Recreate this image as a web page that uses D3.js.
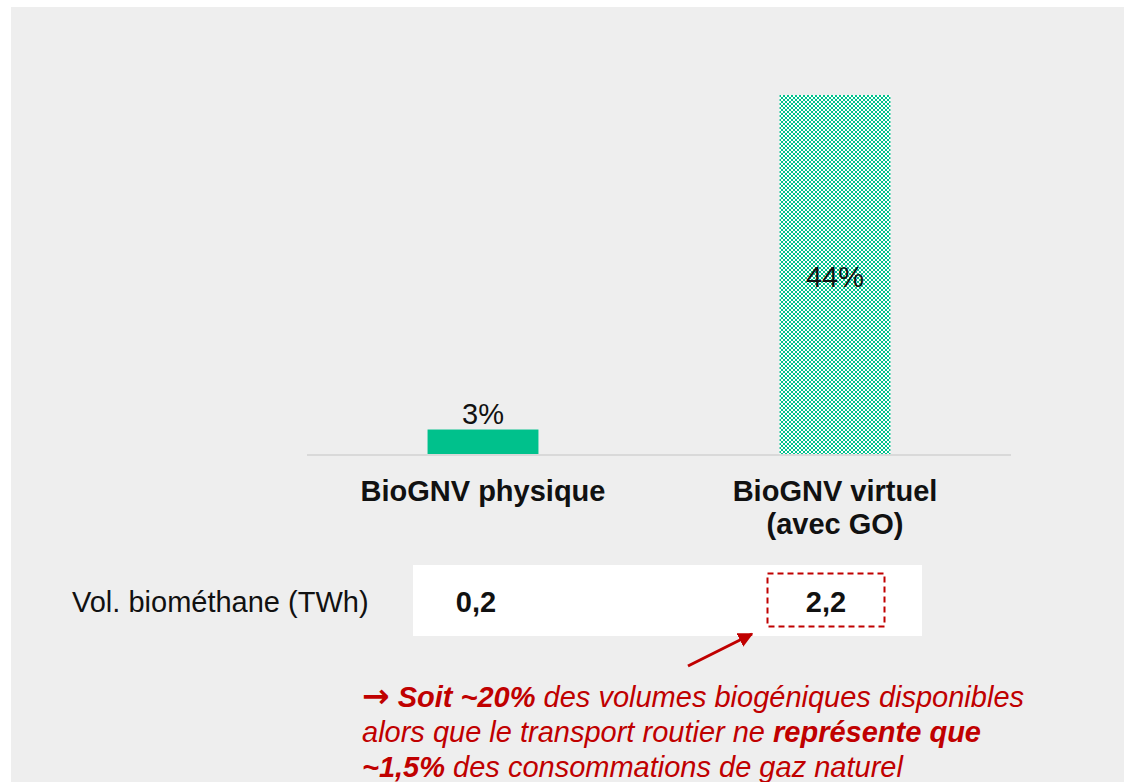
<!DOCTYPE html>
<html><head><meta charset="utf-8">
<script src="https://cdn.jsdelivr.net/npm/d3@7"></script>
<style>
html,body{margin:0;padding:0;background:#fff;}
svg{display:block;font-family:"Liberation Sans",Arial,sans-serif;}
</style></head>
<body>
<svg id="c" width="1127" height="782"></svg>
<script>
const categories = ["BioGNV physique", "BioGNV virtuel"];
const categoryLines = [["BioGNV physique"], ["BioGNV virtuel", "(avec GO)"]];
const shares = [3, 44];
const shareLabels = ["3%", "44%"];
const volumes = ["0,2", "2,2"];
const rowLabel = "Vol. biométhane (TWh)";
const noteLines = [
  [{t:"\u2192", b:true, arrow:true}, {t:" Soit ~20%", b:true}, {t:" des volumes biogéniques disponibles", b:false}],
  [{t:"alors que le transport routier ne ", b:false}, {t:"représente que", b:true}],
  [{t:"~1,5%", b:true}, {t:" des consommations de gaz naturel", b:false}]
];

const svg = d3.select("#c");
const green = "#00c18c";
const red = "#c00000";
const fs = 29;

svg.append("rect").attr("x",11).attr("y",7).attr("width",1113).attr("height",775).attr("fill","#eeeeee");

const defs = svg.append("defs");
const pat = defs.append("pattern").attr("id","chk").attr("patternUnits","userSpaceOnUse")
  .attr("width",4).attr("height",4).attr("x",779).attr("y",95);
pat.append("rect").attr("width",4).attr("height",4).attr("fill","#ffffff");
pat.append("rect").attr("x",0).attr("y",0).attr("width",2).attr("height",2).attr("fill",green);
pat.append("rect").attr("x",2).attr("y",2).attr("width",2).attr("height",2).attr("fill",green);
defs.append("marker").attr("id","ah").attr("viewBox","0 0 10 10").attr("refX",9).attr("refY",5)
  .attr("markerWidth",5).attr("markerHeight",5).attr("orient","auto").attr("markerUnits","strokeWidth")
  .append("path").attr("d","M0,0 L10,5 L0,10 z").attr("fill",red);

const x = d3.scaleBand().domain(categories).range([307, 1011]).paddingInner(0.685).paddingOuter(0.3425);
const y = d3.scaleLinear().domain([0, 44]).range([454, 95]);

svg.selectAll("rect.bar").data(categories).join("rect").attr("class","bar")
  .attr("x", d => x(d)).attr("width", x.bandwidth())
  .attr("y", (d,i) => y(shares[i])).attr("height", (d,i) => y(0) - y(shares[i]))
  .attr("fill", (d,i) => i === 0 ? green : "url(#chk)");

svg.append("line").attr("x1",307).attr("x2",1011).attr("y1",y(0)+1).attr("y2",y(0)+1)
  .attr("stroke","#d9d9d9").attr("stroke-width",2);

// value labels
svg.selectAll("text.val").data(categories).join("text").attr("class","val")
  .attr("x", d => x(d) + x.bandwidth()/2)
  .attr("y", (d,i) => i === 0 ? y(shares[i]) - 6 : (y(shares[i]) + y(0))/2 + 12)
  .attr("text-anchor","middle").attr("font-size",fs).attr("fill","#111")
  .text((d,i) => shareLabels[i]);

// category labels
categories.forEach((c,i) => {
  const t = svg.append("text").attr("x", x(c) + x.bandwidth()/2).attr("y", 501)
    .attr("text-anchor","middle").attr("font-size",fs).attr("font-weight","bold").attr("fill","#111");
  categoryLines[i].forEach((l,j) => t.append("tspan").attr("x", x(c) + x.bandwidth()/2).attr("dy", j ? 33 : 0).text(l));
});

// volume row
svg.append("rect").attr("x",413).attr("y",565).attr("width",509).attr("height",71).attr("fill","#fff");
svg.append("text").attr("x",72).attr("y",612).attr("font-size",fs).attr("fill","#111").text(rowLabel);
const volX = [476, 826];
svg.selectAll("text.vol").data(volumes).join("text").attr("class","vol")
  .attr("x",(d,i)=>volX[i]).attr("y",612).attr("text-anchor","middle")
  .attr("font-size",fs).attr("font-weight","bold").attr("fill","#111").text(d=>d);
svg.append("rect").attr("x",767.5).attr("y",573.5).attr("width",117).attr("height",53)
  .attr("fill","none").attr("stroke",red).attr("stroke-width",2).attr("stroke-dasharray","6,4");

// arrow
svg.append("line").attr("x1",688).attr("y1",666).attr("x2",752).attr("y2",634)
  .attr("stroke",red).attr("stroke-width",3).attr("marker-end","url(#ah)");

// note
noteLines.forEach((line,i) => {
  const t = svg.append("text").attr("x",362).attr("y",707 + i*35)
    .attr("font-size",fs).attr("font-style","italic").attr("fill",red);
  line.forEach(s => {
    const ts = t.append("tspan").attr("font-weight", s.b ? "bold" : "normal").text(s.t);
    if (s.arrow) ts.attr("font-family","DejaVu Sans").attr("font-style","normal").attr("font-size",33);
  });
});
</script>
</body></html>
